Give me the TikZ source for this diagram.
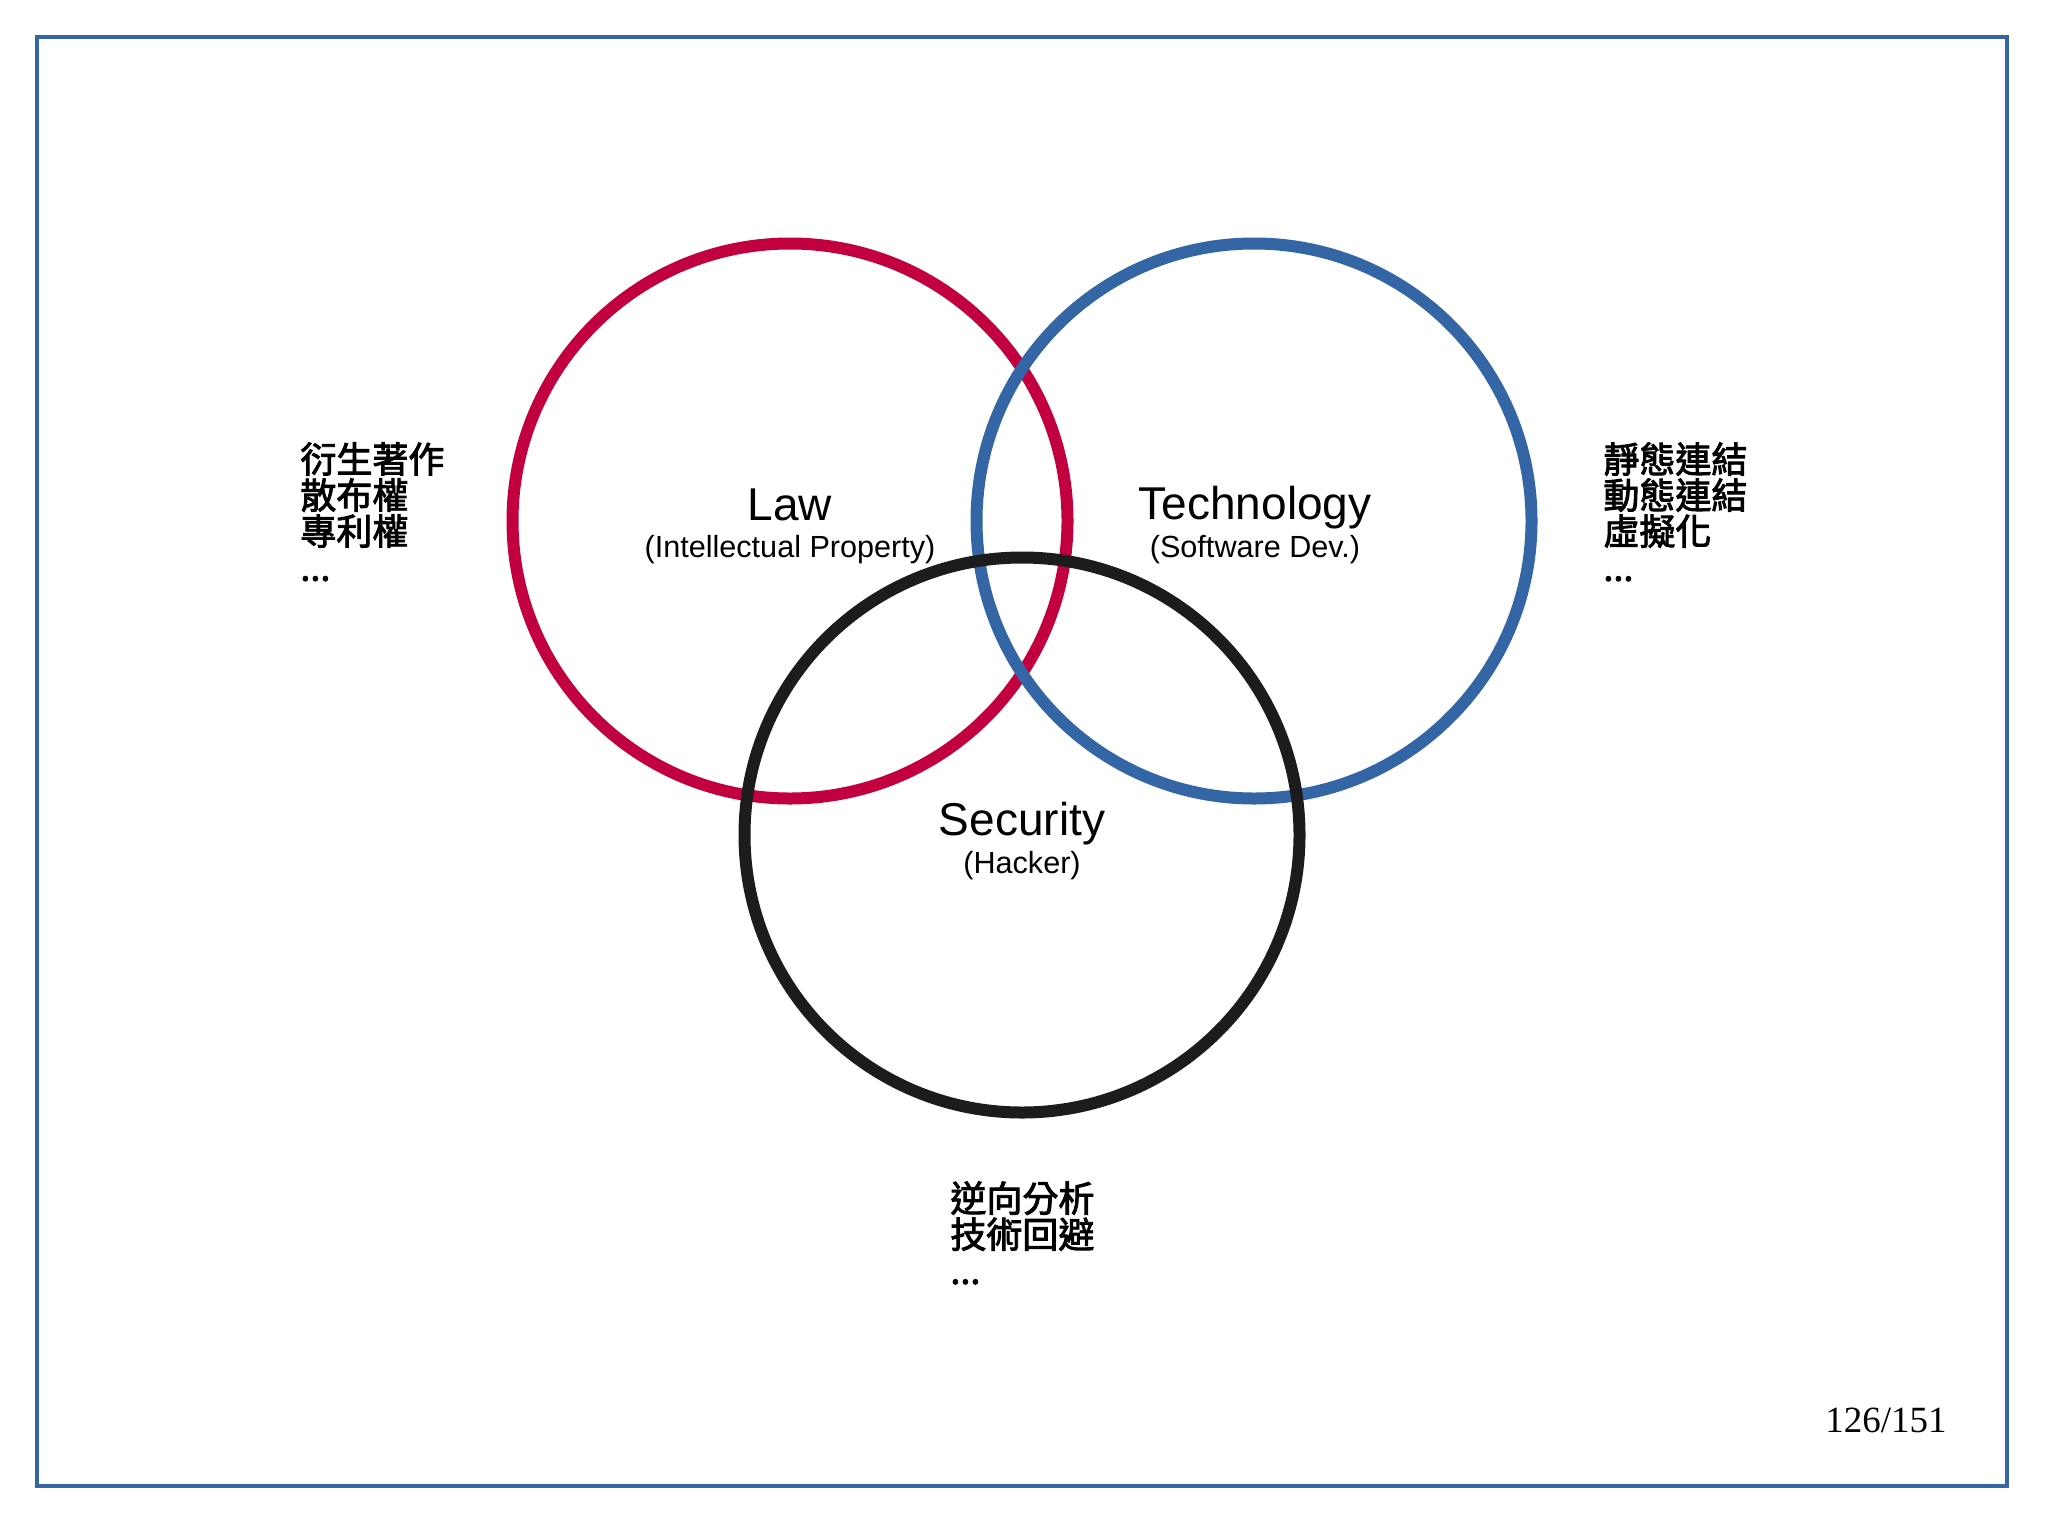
\documentclass[tikz,border=0pt]{standalone}
\usepackage{fontspec}
\setmainfont{Liberation Sans}
\newfontfamily\cjkfont[FakeBold=2.5]{Noto Sans CJK TC}
\newfontfamily\seriffont{Liberation Serif}
\definecolor{lawred}{HTML}{C3003F}
\definecolor{techblue}{HTML}{3465A4}
\definecolor{secblack}{HTML}{1C1C1C}
\begin{document}
\begin{tikzpicture}[x=0.5pt,y=-0.5pt,
  ring/.style={draw, circle, line width=6pt, minimum size=277.5pt, inner sep=0pt},
  title/.style={anchor=base, font=\fontsize{23}{27}\selectfont, inner sep=0pt},
  sub/.style={anchor=base, font=\fontsize{15.3}{18}\selectfont, inner sep=0pt},
  cjk/.style={anchor=north west, align=left, inner sep=0pt, font=\cjkfont\fontsize{18}{18}\selectfont},
  frame/.style={draw=techblue, line width=1.6pt}]
\useasboundingbox (0,0) rectangle (2048,1536);
\fill[white] (0,0) rectangle (2048,1536);
\draw[frame] (37,37) rectangle (2007,1486);
\node[ring, draw=lawred] (law) at (790,521) {};
\node[ring, draw=techblue] (tech) at (1254,521) {};
\node[ring, draw=secblack] (sec) at (1022,835) {};
\node[title] (lawt) at (790,520) {Law};
\node[sub] (laws) at (790,557) {(Intellectual Property)};
\node[title] (techt) at (1255,519) {Technology};
\node[sub] (techs) at (1255,557) {(Software Dev.)};
\node[title] (sect) at (1022,835) {Security};
\node[sub] (secs) at (1022,873) {(Hacker)};
\node[cjk] (left) at (300,442) {衍生著作\\散布權\\專利權\\...};
\node[cjk] (right) at (1603,442) {靜態連結\\動態連結\\虛擬化\\...};
\node[cjk] (bottom) at (950,1181) {逆向分析\\技術回避\\...};
\node[anchor=base west, inner sep=0pt, font=\seriffont\fontsize{18.5}{20}\selectfont] (page) at (1825,1432) {126/151};
\end{tikzpicture}
\end{document}
